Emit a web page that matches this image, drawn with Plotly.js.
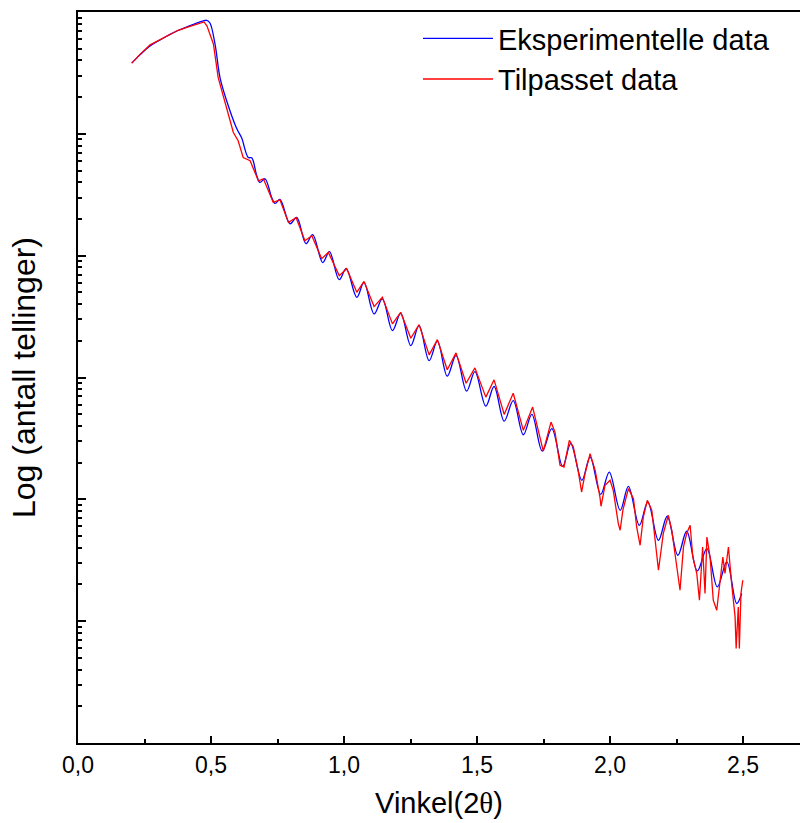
<!DOCTYPE html>
<html>
<head>
<meta charset="utf-8">
<script src="https://cdn.plot.ly/plotly-3.0.1.min.js"></script>
<style>html,body{margin:0;padding:0;background:#fff;}#chart{width:800px;height:823px;}</style>
</head>
<body>
<div id="chart"></div>
<script>
// Vinkel (2θ) and log10(antall tellinger)
const expAngle = [0.202,0.233,0.271,0.308,0.346,0.376,0.409,0.452,0.484,0.496,0.515,0.534,0.559,0.597,0.615,0.640,0.653,0.672,0.684,0.703,0.728,0.741,0.759,0.797,0.822,0.857,0.882,0.920,0.945,0.982,1.008,1.048,1.075,1.113,1.144,1.182,1.213,1.251,1.282,1.320,1.351,1.388,1.421,1.461,1.492,1.533,1.564,1.602,1.636,1.674,1.706,1.745,1.781,1.822,1.852,1.894,1.925,1.965,1.997,2.038,2.069,2.110,2.142,2.182,2.215,2.255,2.288,2.328,2.364,2.403,2.439,2.476,2.495];
const expLog = [5.580,5.648,5.721,5.770,5.817,5.848,5.877,5.912,5.932,5.910,5.738,5.459,5.270,5.041,4.967,4.806,4.803,4.656,4.601,4.631,4.478,4.429,4.461,4.262,4.314,4.098,4.172,3.943,4.033,3.803,3.893,3.658,3.781,3.522,3.645,3.385,3.527,3.262,3.426,3.139,3.298,3.011,3.180,2.888,3.049,2.765,2.926,2.642,2.811,2.530,2.697,2.396,2.580,2.270,2.457,2.156,2.347,2.041,2.224,1.910,2.107,1.787,1.978,1.664,1.861,1.541,1.738,1.412,1.596,1.281,1.486,1.145,1.227];

const fitAngle = [0.202,0.233,0.271,0.308,0.346,0.376,0.409,0.452,0.474,0.485,0.509,0.527,0.553,0.584,0.602,0.621,0.647,0.678,0.697,0.734,0.759,0.791,0.820,0.853,0.879,0.916,0.941,0.982,1.010,1.048,1.075,1.113,1.144,1.182,1.213,1.251,1.282,1.320,1.351,1.388,1.421,1.459,1.492,1.533,1.564,1.602,1.636,1.674,1.709,1.749,1.762,1.778,1.793,1.812,1.827,1.847,1.862,1.881,1.893,1.906,1.925,1.944,1.962,1.966,1.981,2.000,2.012,2.031,2.038,2.048,2.069,2.088,2.100,2.113,2.125,2.140,2.157,2.169,2.182,2.200,2.219,2.232,2.248,2.263,2.276,2.288,2.301,2.311,2.326,2.336,2.348,2.357,2.364,2.376,2.388,2.401,2.414,2.424,2.432,2.445,2.457,2.470,2.474,2.482,2.486,2.492,2.499];
const fitLog = [5.580,5.652,5.730,5.770,5.817,5.850,5.873,5.905,5.918,5.885,5.738,5.461,5.246,5.011,4.943,4.806,4.779,4.615,4.631,4.437,4.459,4.273,4.311,4.123,4.164,3.975,4.027,3.836,3.893,3.699,3.789,3.582,3.658,3.440,3.535,3.322,3.434,3.186,3.311,3.063,3.202,2.953,3.079,2.839,2.981,2.697,2.871,2.566,2.757,2.396,2.500,2.634,2.552,2.279,2.265,2.484,2.429,2.224,2.060,2.211,2.375,2.238,2.019,1.943,2.115,2.156,2.074,1.801,1.746,1.910,2.088,2.006,1.773,1.623,1.855,1.992,1.910,1.664,1.418,1.719,1.869,1.746,1.500,1.254,1.609,1.719,1.787,1.527,1.391,1.172,1.609,1.227,1.691,1.527,1.172,1.090,1.336,1.527,1.391,1.609,1.309,1.035,0.776,1.117,0.776,1.227,1.336];

const seriesNames = ["Eksperimentelle data", "Tilpasset data"];
const xTickVals = [0, 0.5, 1.0, 1.5, 2.0, 2.5];
const decades = [0, 1, 2, 3, 4, 5, 6];

const minorY = [];
for (let d = 0; d < 6; d++) {
  for (let k = 2; k <= 9; k++) minorY.push(d + Math.log10(k));
}

const traces = [
  {x: expAngle, y: expLog, name: seriesNames[0], type: 'scatter', mode: 'lines',
   line: {color: '#0000ff', width: 1.3, shape: 'spline', smoothing: 1}},
  {x: fitAngle, y: fitLog, name: seriesNames[1], type: 'scatter', mode: 'lines',
   line: {color: '#ff0000', width: 1.3}}
];

const layout = {
  width: 800, height: 823,
  margin: {l: 78, r: 0, t: 12, b: 80},
  paper_bgcolor: '#fff', plot_bgcolor: '#fff',
  separators: ',.',
  font: {family: 'Liberation Sans, Arial, sans-serif', color: '#000'},
  showlegend: true,
  legend: {x: 0.4709, y: 0.9987, xanchor: 'left', yanchor: 'top', yref: 'paper',
           font: {size: 29, color: '#000'}, bgcolor: 'rgba(0,0,0,0)',
           itemwidth: 70, tracegroupgap: 0},
  xaxis: {
    range: [0, 2.714], showgrid: false, zeroline: false,
    showline: true, linewidth: 2, linecolor: '#000', mirror: true,
    tickmode: 'array', tickvals: xTickVals, tickformat: '.1f',
    ticks: 'inside', ticklen: 7, tickwidth: 2, tickcolor: '#000',
    tickfont: {size: 23, color: '#000'}, ticklabelstandoff: 0,
    minor: {dtick: 0.25, tick0: 0, ticks: 'inside', ticklen: 4, tickwidth: 2, tickcolor: '#000', showgrid: false},
    title: {text: 'Vinkel(2<span style="font-family:Liberation Serif">θ</span>)', font: {size: 29, color: '#000'}, standoff: 16}
  },
  yaxis: {
    range: [0, 6], showgrid: false, zeroline: false,
    showline: true, linewidth: 2, linecolor: '#000', mirror: false,
    tickmode: 'array', tickvals: decades, showticklabels: false,
    ticks: 'inside', ticklen: 8, tickwidth: 2, tickcolor: '#000',
    minor: {tickmode: 'array', tickvals: minorY, ticks: 'inside', ticklen: 4, tickwidth: 2, tickcolor: '#000', showgrid: false},
    title: {text: 'Log (antall tellinger)', font: {size: 32, color: '#000'}, standoff: 31}
  }
};

Plotly.newPlot('chart', traces, layout, {displayModeBar: false, staticPlot: true});
</script>
</body>
</html>
